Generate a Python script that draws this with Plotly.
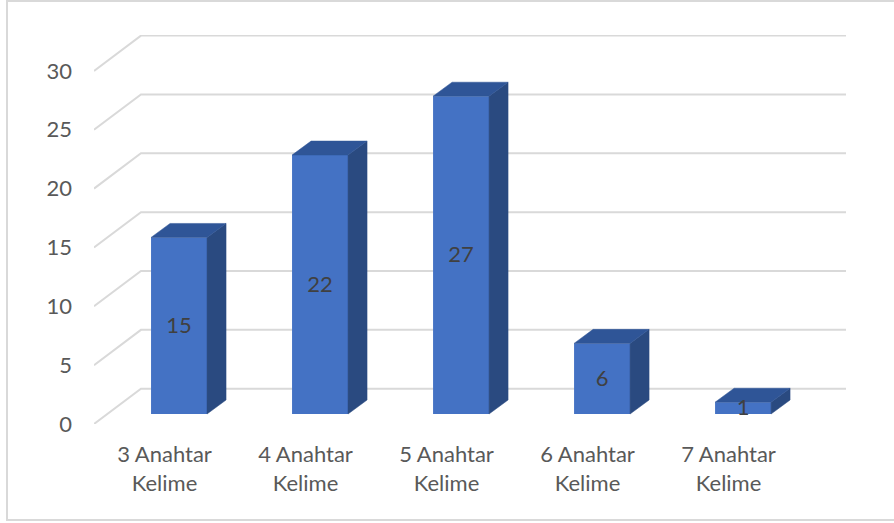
import plotly.graph_objects as go

categories = ["3 Anahtar<br>Kelime", "4 Anahtar<br>Kelime", "5 Anahtar<br>Kelime",
              "6 Anahtar<br>Kelime", "7 Anahtar<br>Kelime"]
values = [15, 22, 27, 6, 1]
y_ticks = [0, 5, 10, 15, 20, 25, 30]

# fake 3D: offsets in axis units (x in categories, y in value units)
WALL_DX, WALL_DY = 0.333, 3.0
BAR_DX, BAR_DY = 0.103, 0.85
DEPTH_DX, DEPTH_DY = 0.135, 1.19
BAR_W = 0.397
LABEL_DY = -0.15

FRONT = "#4472C4"
SIDE = "#2A4A80"
TOP = "#2F5597"
GRID = "#D9D9D9"
FONT = "Lato"

fig = go.Figure()
n = len(categories)

# side and top faces of the bars
for i, v in enumerate(values):
    left = i + 0.5 + BAR_DX - BAR_W / 2
    right = left + BAR_W
    bottom = BAR_DY
    top = BAR_DY + v
    fig.add_trace(go.Scatter(
        x=[right, right + DEPTH_DX, right + DEPTH_DX, right, right],
        y=[bottom, bottom + DEPTH_DY, top + DEPTH_DY, top, bottom],
        mode="lines", fill="toself", fillcolor=SIDE,
        line=dict(color=SIDE, width=0.5),
        hoverinfo="skip", showlegend=False,
    ))
    fig.add_trace(go.Scatter(
        x=[left, left + DEPTH_DX, right + DEPTH_DX, right, left],
        y=[top, top + DEPTH_DY, top + DEPTH_DY, top, top],
        mode="lines", fill="toself", fillcolor=TOP,
        line=dict(color=TOP, width=0.5),
        hoverinfo="skip", showlegend=False,
    ))

# front faces
x_centres = [i + 0.5 + BAR_DX for i in range(n)]
fig.add_trace(go.Bar(
    x=x_centres,
    y=values,
    base=[BAR_DY] * n,
    width=BAR_W,
    marker=dict(color=FRONT, line=dict(width=0)),
    showlegend=False,
))

# value labels
fig.add_trace(go.Scatter(
    x=x_centres,
    y=[BAR_DY + v / 2 + LABEL_DY for v in values],
    text=[str(v) for v in values],
    mode="text",
    textposition="middle center",
    textfont=dict(family=FONT, size=22, color="#404040"),
    hoverinfo="skip",
    showlegend=False,
))

# wall lines with the diagonal down to the front of the floor, under the bars
shapes = []
for t in y_ticks:
    shapes.append(dict(
        type="path",
        xref="x", yref="y",
        path=f"M 0,{t} L {WALL_DX},{t + WALL_DY} L {n + WALL_DX},{t + WALL_DY}",
        line=dict(color=GRID, width=2),
        layer="below",
    ))

# chart frame
shapes.append(dict(
    type="rect", xref="paper", yref="paper",
    x0=-87 / 752, x1=1.2, y0=-96 / 389, y1=1 + 34 / 389,
    line=dict(color=GRID, width=2),
    fillcolor="rgba(0,0,0,0)",
    layer="below",
))

fig.update_layout(
    width=894,
    height=523,
    margin=dict(l=94, r=48, t=35, b=99, autoexpand=False),
    paper_bgcolor="white",
    plot_bgcolor="white",
    showlegend=False,
    xaxis=dict(
        range=[0, n + WALL_DX],
        tickmode="array",
        tickvals=[i + 0.5 for i in range(n)],
        ticktext=categories,
        tickfont=dict(family=FONT, size=22, color="#595959"),
        showgrid=False,
        zeroline=False,
        showline=False,
        ticks="",
        ticklabelstandoff=15,
    ),
    yaxis=dict(
        range=[0, 33.05],
        tickmode="array",
        tickvals=y_ticks,
        tickfont=dict(family=FONT, size=22, color="#595959"),
        showgrid=False,
        zeroline=False,
        showline=False,
        ticks="",
        ticklabelstandoff=21,
    ),
    shapes=shapes,
)

fig.write_html(
    "out.html",
    config=dict(displayModeBar=False),
    post_script="document.body.style.margin='0';document.body.style.overflow='hidden';",
)
